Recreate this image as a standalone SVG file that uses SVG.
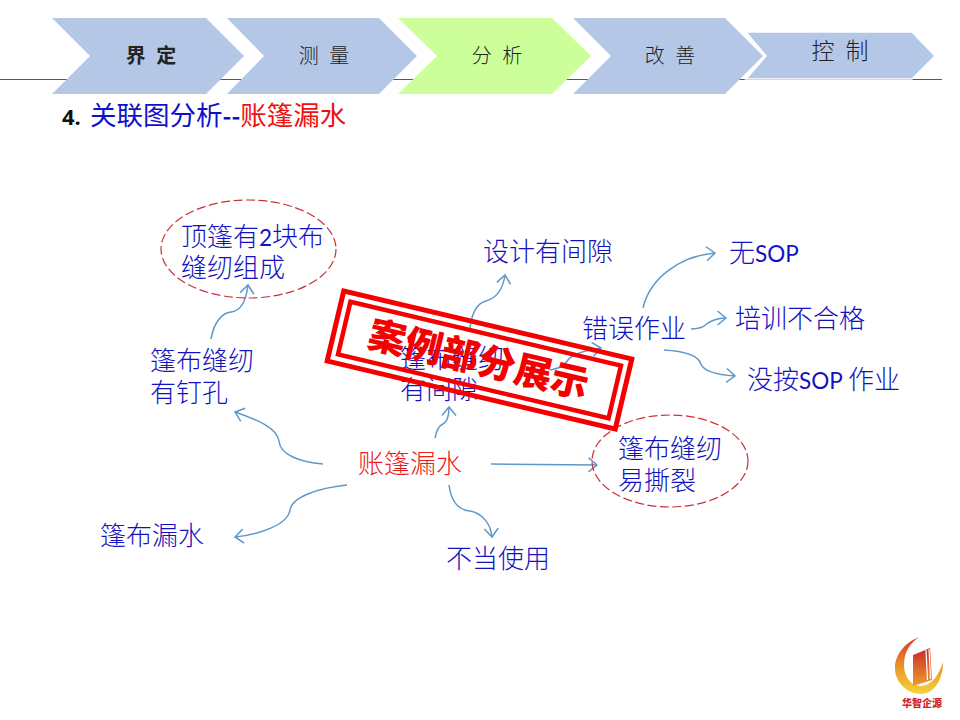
<svg xmlns="http://www.w3.org/2000/svg" width="960" height="720" viewBox="0 0 960 720">
<style>
text{font-family:"Noto Sans CJK SC","Noto Sans",sans-serif;}
.c{fill:#b4c7e7}
.h{font-size:20px;fill:#222;text-anchor:middle;word-spacing:6px;font-weight:300}
.t{font-size:26px;fill:#1212c0;font-weight:300}
.l{font-family:"Lato","Noto Sans",sans-serif;font-size:22.500px;font-weight:400}
.e{fill:none;stroke:#c9303a;stroke-width:1.2;stroke-dasharray:9 3.5}
.a{fill:none;stroke:#5f98c8;stroke-width:1.5;marker-end:url(#ah)}
</style>
<defs>
<marker id="ah" markerUnits="userSpaceOnUse" markerWidth="20" markerHeight="20" refX="12" refY="10" orient="auto" overflow="visible">
<path d="M3.500 3L12 10L3.500 17" fill="none" stroke="#5f98c8" stroke-width="1.5"/>
</marker>
<linearGradient id="cg" x1="0" y1="0" x2="0" y2="1"><stop offset="0" stop-color="#d8352a"/><stop offset=".55" stop-color="#ea9a2a"/><stop offset="1" stop-color="#f6d23c"/></linearGradient>
<linearGradient id="bg" x1="0" y1="0" x2="0" y2="1"><stop offset="0" stop-color="#c9282a"/><stop offset="1" stop-color="#ee9c30"/></linearGradient>
</defs>
<rect width="960" height="720" fill="#fff"/>
<line x1="0" y1="79.500" x2="942" y2="79.500" stroke="#17708a" stroke-width="1"/>

<g id="step1"><polygon class="c" points="52,18 206,18 244,56 206,94 52,94 90,56"/><text class="h" x="151" y="63" style="font-weight:700">界 定</text></g>
<g id="step2"><polygon class="c" points="227,18 379,18 417,56 379,94 227,94 264,56"/><text class="h" x="324" y="63">测 量</text></g>
<g id="step3"><polygon points="398,18 552,18 591,56 552,94 398,94 437,56" fill="#ccff99"/><text class="h" x="497" y="63">分 析</text></g>
<g id="step4"><polygon class="c" points="573,18 725,18 763,56 725,94 573,94 611,56"/><text class="h" x="670" y="63">改 善</text></g>
<g id="step5"><polygon class="c" points="746,32 912,32 935,56 912,79 746,79 766,56" stroke="#fff" stroke-width="1.5"/><text class="h" x="840" y="59" style="font-size:23px">控 制</text></g>

<text id="title" x="62" y="125" font-size="26.500"><tspan font-size="22" font-weight="700" fill="#111" style="font-family:'Noto Sans',sans-serif">4. </tspan><tspan x="90" fill="#1010c8" font-weight="400">关联图分析</tspan><tspan fill="#1010c8" font-weight="700" font-size="24">--</tspan><tspan fill="#ee1111" font-weight="400">账篷漏水</tspan></text>

<g id="connectors">
<path class="a" d="M211 339C214 322 222 313 231 312C241 311 246 302 248 285"/>
<path class="a" d="M323 464C300 462 280 455 279 441C277 428 258 420 235 412"/>
<path class="a" d="M347 485C318 488 292 497 290 510C288 524 262 534 235 537"/>
<path class="a" d="M449 485C451 500 458 510 470 511C482 513 491 524 492 537"/>
<path class="a" d="M491 464L597 465"/>
<path class="a" d="M435 438C437 428 440 425 443 424C447 422 449 416 449 407"/>
<path class="a" d="M470 328C472 312 478 303 486 301C497 298 503 288 505 275"/>
<path class="a" d="M550 370C560 368 564 366 568 360C573 353 588 350 601 348"/>
<path class="a" d="M643 308C650 278 680 256 715 253"/>
<path class="a" d="M691 329C702 329 704 326 708 323C713 320 718 318 726 318"/>
<path class="a" d="M664 350C682 351 698 355 701 364C704 372 720 375 735 376"/>
</g>

<g id="n-top"><ellipse class="e" cx="248.500" cy="249" rx="87.500" ry="49"/><text class="t" x="181" y="246">顶篷有<tspan class="l">2</tspan>块布</text><text class="t" x="181" y="277">缝纫组成</text></g>
<g id="n-nail"><text class="t" x="150" y="370">篷布缝纫</text><text class="t" x="150" y="402">有钉孔</text></g>
<g id="n-gap"><text class="t" x="400" y="368">篷布缝纫</text><text class="t" x="400" y="399">有间隙</text></g>
<g id="n-design"><text class="t" x="483" y="261">设计有间隙</text></g>
<g id="n-err"><text class="t" x="582" y="338">错误作业</text></g>
<g id="n-nosop"><text class="t" x="729" y="262">无<tspan class="l">SOP</tspan></text></g>
<g id="n-train"><text class="t" x="735" y="328">培训不合格</text></g>
<g id="n-notsop"><text class="t" x="747" y="389">没按<tspan class="l">SOP </tspan>作业</text></g>
<g id="n-root"><text class="t" x="358" y="473" style="fill:#ea1c1c">账篷漏水</text></g>
<g id="n-tear"><ellipse class="e" cx="670" cy="461" rx="78" ry="46"/><text class="t" x="618" y="458">篷布缝纫</text><text class="t" x="618" y="490">易撕裂</text></g>
<g id="n-leak"><text class="t" x="100" y="545">篷布漏水</text></g>
<g id="n-misuse"><text class="t" x="446" y="568">不当使用</text></g>

<g id="stamp" transform="translate(479.500 360) rotate(13.300)">
<rect x="-148" y="-36" width="296" height="72" fill="none" stroke="#f40000" stroke-width="5"/>
<rect x="-139" y="-27" width="278" height="54" fill="none" stroke="#f40000" stroke-width="4.500"/>
<text x="-1" y="13" font-size="37.500" font-weight="900" fill="#f40000" text-anchor="middle">案例部分展示</text>
</g>

<g id="logo">
<path d="M919 637C902 644 895 657 895 668C895 683 908 694 921 694C934 694 943 680 943 662C939 675 931 686 921 686C911 686 904 677 904 665C904 653 909 644 919 637Z" fill="url(#cg)"/>
<polygon points="913,655 930,648 932,680 913,686" fill="url(#bg)"/>
<path d="M926 650L927.500 680M929 649L930.500 679" stroke="#fff" stroke-width="1.2" fill="none"/>
<text x="922" y="707" font-size="10" font-weight="900" fill="#d4232a" text-anchor="middle">华智企源</text>
</g>
</svg>
